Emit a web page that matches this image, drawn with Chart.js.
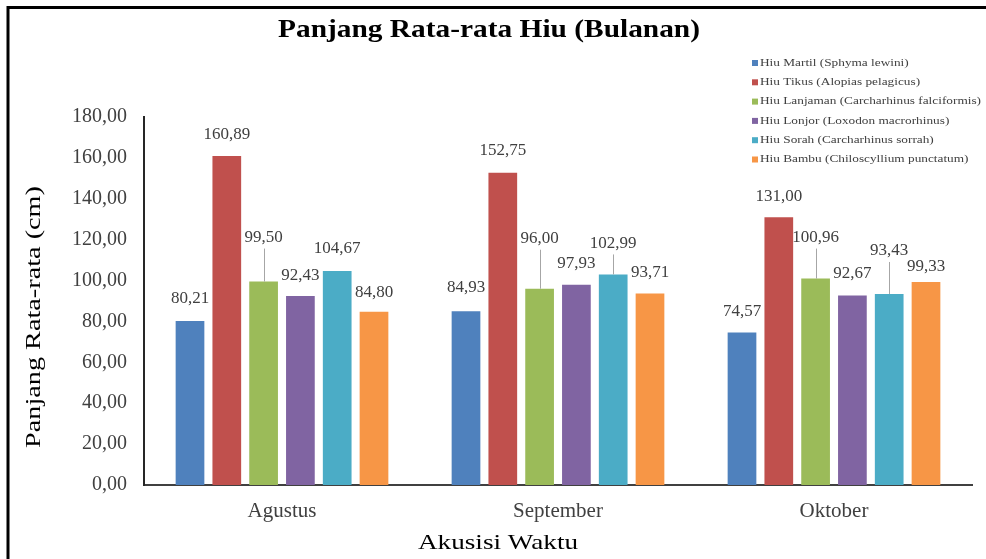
<!DOCTYPE html>
<html><head><meta charset="utf-8">
<script src="https://cdn.jsdelivr.net/npm/chart.js@4/dist/chart.umd.min.js"></script>
<style>html,body{margin:0;padding:0;background:#fff}#wrap{width:986px;height:559px;position:relative}canvas{display:block}</style>
</head><body><div id="wrap"><canvas id="c" width="986" height="559"></canvas></div>
<script>
// ---- data ----
const categories = ['Agustus', 'September', 'Oktober'];
const seriesNames = [
  'Hiu Martil (Sphyma lewini)',
  'Hiu Tikus (Alopias pelagicus)',
  'Hiu Lanjaman (Carcharhinus falciformis)',
  'Hiu Lonjor (Loxodon macrorhinus)',
  'Hiu Sorah (Carcharhinus sorrah)',
  'Hiu Bambu (Chiloscyllium punctatum)'
];
const martil   = [80.21, 84.93, 74.57];
const tikus    = [160.89, 152.75, 131.00];
const lanjaman = [99.50, 96.00, 100.96];
const lonjor   = [92.43, 97.93, 92.67];
const sorah    = [104.67, 102.99, 93.43];
const bambu    = [84.80, 93.71, 99.33];
const yTickMin = 0, yTickMax = 180, yTickStep = 20;

// ---- style ----
const colors = ['#4F81BD', '#C0504D', '#9BBB59', '#8064A2', '#4BACC6', '#F79646'];
// label lift above bar top (px), style only
const labelLift = [
  [22, 24, 21],
  [22, 22, 21],
  [44, 50, 41],
  [21, 21, 22],
  [22, 31, 43],
  [19, 21, 15]
];
const SERIF = '"Liberation Serif", "DejaVu Serif", serif';
const TXT = '#404040';

const seriesValues = [martil, tikus, lanjaman, lonjor, sorah, bambu];
const fmt = v => v.toFixed(2).replace('.', ',');

function drawText(ctx, text, x, y, font, sx, align, color, rot) {
  ctx.save();
  ctx.font = font;
  ctx.fillStyle = color;
  ctx.textBaseline = 'middle';
  ctx.textAlign = align;
  ctx.translate(x, y);
  if (rot) ctx.rotate(rot);
  ctx.scale(sx, 1);
  ctx.fillText(text, 0, 0);
  ctx.restore();
}
function fitScale(ctx, text, font, target) {
  ctx.save(); ctx.font = font; const w = ctx.measureText(text).width; ctx.restore();
  return target / w;
}

const decor = {
  id: 'decor',
  beforeDraw(chart) {
    const ctx = chart.ctx;
    ctx.save();
    ctx.fillStyle = '#fff';
    ctx.fillRect(0, 0, chart.width, chart.height);
    ctx.strokeStyle = '#000';
    ctx.lineWidth = 3;
    ctx.beginPath();
    ctx.moveTo(8, 559); ctx.lineTo(8, 7.5); ctx.lineTo(986, 7.5);
    ctx.stroke();
    ctx.restore();
  },
  afterDatasetsDraw(chart) {
    const ctx = chart.ctx;
    const font = '17px ' + SERIF;
    chart.data.datasets.forEach((ds, di) => {
      const meta = chart.getDatasetMeta(di);
      meta.data.forEach((bar, i) => {
        const lift = labelLift[di][i];
        const ly = bar.y - lift;
        if (lift > 28) {
          ctx.save();
          ctx.strokeStyle = '#A6A6A6';
          ctx.lineWidth = 1;
          ctx.beginPath();
          ctx.moveTo(Math.round(bar.x) + 0.5, ly + 11);
          ctx.lineTo(Math.round(bar.x) + 0.5, bar.y);
          ctx.stroke();
          ctx.restore();
        }
        drawText(ctx, fmt(ds.data[i]), bar.x, ly, font, 1, 'center', TXT);
      });
    });
  },
  afterDraw(chart) {
    const ctx = chart.ctx;
    // title
    const tf = 'bold 26px ' + SERIF;
    const tt = 'Panjang Rata-rata Hiu (Bulanan)';
    drawText(ctx, tt, 489, 30, tf, fitScale(ctx, tt, tf, 422), 'center', '#000');
    // y title
    const yf = '22px ' + SERIF;
    const yt = 'Panjang Rata-rata (cm)';
    drawText(ctx, yt, 34, 317, yf, fitScale(ctx, yt, yf, 262), 'center', '#000', -Math.PI / 2);
    // x title
    const xf = '22px ' + SERIF;
    const xt = 'Akusisi Waktu';
    drawText(ctx, xt, 498, 543, xf, fitScale(ctx, xt, xf, 160), 'center', '#000');
    // legend
    const lf = '11px ' + SERIF;
    ctx.save(); ctx.font = lf;
    const maxW = Math.max(...seriesNames.map(s => ctx.measureText(s).width));
    ctx.restore();
    const lsx = 221 / maxW;
    seriesNames.forEach((name, k) => {
      const cy = 63 + k * 19.3;
      ctx.fillStyle = colors[k];
      ctx.fillRect(752, cy - 3, 6, 6);
      drawText(ctx, name, 760, cy, lf, lsx, 'left', TXT);
    });
  }
};

new Chart(document.getElementById('c'), {
  type: 'bar',
  data: {
    labels: categories,
    datasets: seriesNames.map((n, k) => ({
      label: n,
      data: seriesValues[k],
      backgroundColor: colors[k],
      borderWidth: 0,
      categoryPercentage: 0.8,
      barPercentage: 0.78
    }))
  },
  options: {
    responsive: false,
    animation: false,
    devicePixelRatio: 1,
    layout: { padding: { top: 117, right: 14, left: 0, bottom: 0 } },
    plugins: { legend: { display: false }, title: { display: false }, tooltip: { enabled: false } },
    scales: {
      x: {
        grid: { display: false, drawTicks: false },
        border: { display: true, color: '#404040', width: 2 },
        ticks: { color: TXT, font: { family: SERIF, size: 21 }, padding: 14 },
        afterFit(s) { s.height = 74; }
      },
      y: {
        min: yTickMin, max: yTickMax,
        grid: { display: false, drawTicks: false },
        border: { display: true, color: '#262626', width: 2 },
        ticks: { stepSize: yTickStep, color: TXT, font: { family: SERIF, size: 20 }, padding: 17, callback: v => fmt(v) },
        afterFit(s) { s.width = 144; }
      }
    }
  },
  plugins: [decor]
});
</script>
</body></html>
